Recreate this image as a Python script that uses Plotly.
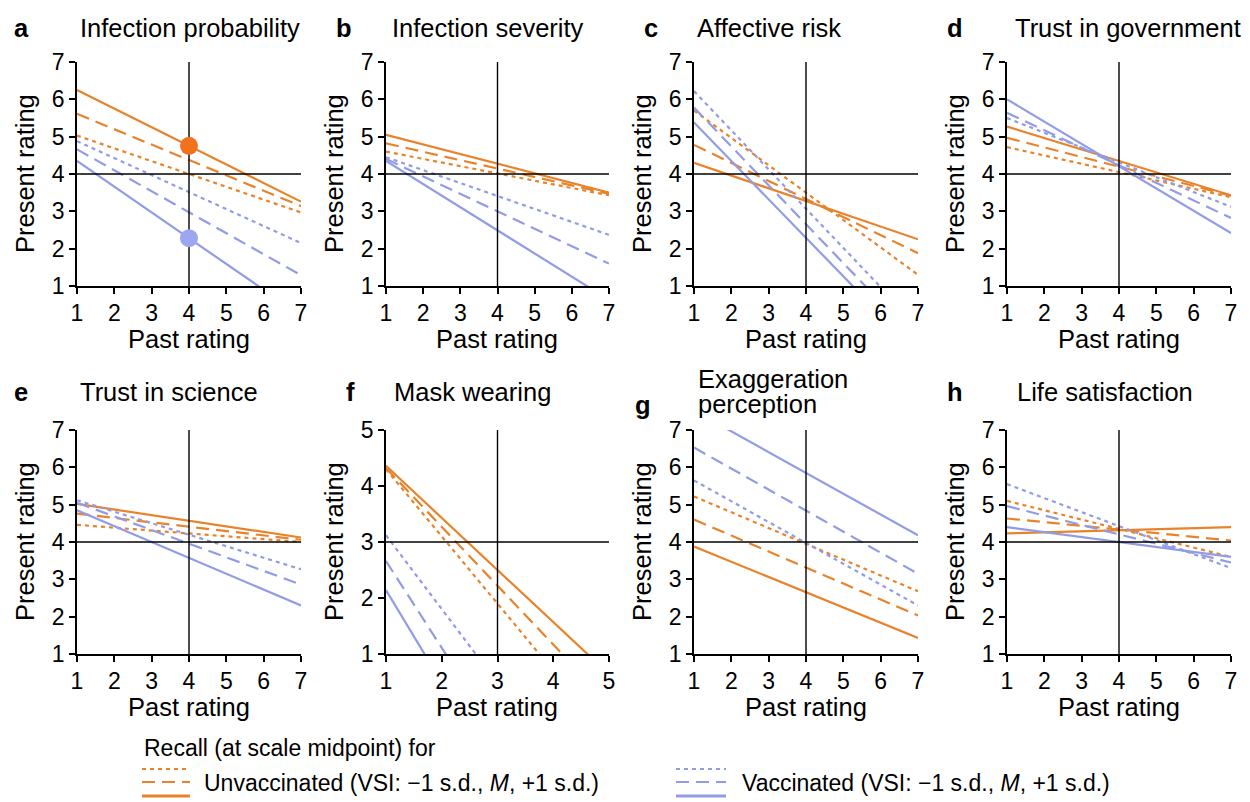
import plotly.graph_objects as go

# target picture size; the page body adds an 8 px margin, so the figure itself is
# made smaller and every pixel position below is given in page coordinates.
PAGE_W, PAGE_H = 1250, 802
OFF = 8
W, H = PAGE_W - OFF, PAGE_H - OFF

# ---------------- data ----------------
panel_letters = ["a", "b", "c", "d", "e", "f", "g", "h"]
panel_titles = ["Infection probability", "Infection severity", "Affective risk",
                "Trust in government", "Trust in science", "Mask wearing",
                "Exaggeration<br>perception", "Life satisfaction"]
scale_min = [1, 1, 1, 1, 1, 1, 1, 1]
scale_max = [7, 7, 7, 7, 7, 5, 7, 7]
scale_mid = [4, 4, 4, 4, 4, 3, 4, 4]

# Predicted present rating at the lowest past rating (scale min) and highest (scale max)
# Unvaccinated
unvax_minus_sd_at_min = [5.03, 4.60, 5.70, 4.72, 4.46, 4.30, 5.22, 5.10]
unvax_minus_sd_at_max = [2.97, 3.43, 1.30, 3.38, 4.00, -0.50, 2.68, 3.60]
unvax_mean_at_min = [5.61, 4.82, 4.78, 4.97, 4.76, 4.32, 4.60, 4.63]
unvax_mean_at_max = [3.14, 3.47, 1.88, 3.42, 4.06, 0.12, 2.03, 4.04]
unvax_plus_sd_at_min = [6.25, 5.05, 4.30, 5.27, 5.02, 4.36, 3.88, 4.23]
unvax_plus_sd_at_max = [3.26, 3.50, 2.25, 3.43, 4.12, 0.64, 1.43, 4.40]
# Vaccinated
vax_minus_sd_at_min = [4.88, 4.45, 6.22, 5.50, 5.12, 3.12, 5.65, 5.55]
vax_minus_sd_at_max = [2.15, 2.37, -0.08, 3.12, 3.27, -2.15, 2.30, 3.30]
vax_mean_at_min = [4.66, 4.40, 5.78, 5.64, 5.05, 2.66, 6.53, 4.96]
vax_mean_at_max = [1.29, 1.60, -0.47, 2.82, 2.86, -3.54, 3.15, 3.45]
vax_plus_sd_at_min = [4.35, 4.35, 5.38, 6.00, 4.85, 2.14, 7.52, 4.40]
vax_plus_sd_at_max = [0.21, 0.63, -0.80, 2.42, 2.30, -4.46, 4.18, 3.60]

# panels with highlighted recall points (at scale midpoint, +1 s.d.)
dot_panels = [0]

# ---------------- style ----------------
ORANGE = "#E8832B"
BLUE = "#929CE6"
DOT_ORANGE = "#F2711E"
DOT_BLUE = "#9DA7F0"
FONT = "Liberation Sans"
FS = 25.5
TICK_FS = 23
DASH_DOT = "4px,4px"
DASH_DASH = "13px,7px"
LW = 2.2

# panel plot areas in page pixels: (left, right) and (top, bottom)
col_px = [(77, 301), (386, 609), (694, 918), (1007, 1231)]
row_px = [(62, 286), (430, 654)]

fig = go.Figure()

series = [
    (ORANGE, [(unvax_minus_sd_at_min, unvax_minus_sd_at_max, DASH_DOT),
              (unvax_mean_at_min, unvax_mean_at_max, DASH_DASH),
              (unvax_plus_sd_at_min, unvax_plus_sd_at_max, "solid")]),
    (BLUE, [(vax_minus_sd_at_min, vax_minus_sd_at_max, DASH_DOT),
            (vax_mean_at_min, vax_mean_at_max, DASH_DASH),
            (vax_plus_sd_at_min, vax_plus_sd_at_max, "solid")]),
]

annotations = []
layout_axes = {}


def px_x(p):
    return (p - OFF) / W


def px_y(p):
    return 1 - (p - OFF) / H


def text(t, x, y, size=FS, xanchor="left", angle=0):
    return dict(text=t, x=px_x(x), y=px_y(y), xref="paper", yref="paper",
                xanchor=xanchor, yanchor="middle", align="left", textangle=angle,
                showarrow=False, font=dict(size=size, color="black", family=FONT))


for i in range(8):
    r, c = divmod(i, 4)
    xl, xr = col_px[c]
    yt, yb = row_px[r]
    xa = "x" if i == 0 else f"x{i+1}"
    ya = "y" if i == 0 else f"y{i+1}"
    lo, hi, mid = scale_min[i], scale_max[i], scale_mid[i]

    # regression lines
    for color, levels in series:
        for at_min, at_max, dash in levels:
            fig.add_trace(go.Scatter(
                x=[lo, hi], y=[at_min[i], at_max[i]], mode="lines",
                line=dict(color=color, width=LW, dash=dash),
                xaxis=xa, yaxis=ya, showlegend=False, hoverinfo="skip"))

    # midpoint reference lines
    fig.add_trace(go.Scatter(x=[mid, mid], y=[lo, hi], mode="lines",
                             line=dict(color="black", width=1.4),
                             xaxis=xa, yaxis=ya, showlegend=False, hoverinfo="skip"))
    fig.add_trace(go.Scatter(x=[lo, hi], y=[mid, mid], mode="lines",
                             line=dict(color="black", width=1.4),
                             xaxis=xa, yaxis=ya, showlegend=False, hoverinfo="skip"))

    if i in dot_panels:
        frac = (mid - lo) / (hi - lo)
        yo = unvax_plus_sd_at_min[i] + frac * (unvax_plus_sd_at_max[i] - unvax_plus_sd_at_min[i])
        yv = vax_plus_sd_at_min[i] + frac * (vax_plus_sd_at_max[i] - vax_plus_sd_at_min[i])
        fig.add_trace(go.Scatter(x=[mid, mid], y=[yo, yv], mode="markers",
                                 marker=dict(size=18, color=[DOT_ORANGE, DOT_BLUE]),
                                 xaxis=xa, yaxis=ya, showlegend=False, hoverinfo="skip"))

    common = dict(showline=True, linecolor="black", linewidth=1.5, ticks="outside",
                  ticklen=6, tickwidth=1.5, tickcolor="black", showgrid=False,
                  zeroline=False, fixedrange=True, range=[lo, hi], dtick=1, tick0=lo,
                  automargin=False,
                  tickfont=dict(size=TICK_FS, color="black", family=FONT))
    layout_axes["xaxis" if i == 0 else f"xaxis{i+1}"] = dict(
        common, domain=[px_x(xl), px_x(xr)], anchor=ya)
    layout_axes["yaxis" if i == 0 else f"yaxis{i+1}"] = dict(
        common, domain=[px_y(yb), px_y(yt)], anchor=xa)

    # axis titles
    annotations.append(text("Past rating", (xl + xr) / 2, yb + 53, xanchor="center"))
    annotations.append(text("Present rating", xl - 52, (yt + yb) / 2,
                            xanchor="center", angle=-90))

# panel letters and titles (page pixel positions)
letter_px = [(12, 28), (334, 28), (642, 28), (945, 28),
             (12, 392), (344, 392), (633, 405), (945, 392)]
title_px = [(78, 28), (390, 28), (695, 28), (1013, 28),
            (78, 392), (392, 392), (696, 379), (1015, 392)]
for i in range(8):
    lx, ly = letter_px[i]
    tx, ty = title_px[i]
    annotations.append(text(f"<b>{panel_letters[i]}</b>", lx, ly))
    for k, line in enumerate(panel_titles[i].split("<br>")):
        annotations.append(text(line, tx, ty + 25 * k))

# bottom legend
annotations.append(text("Recall (at scale midpoint) for", 142, 748, size=23))
legend_groups = [
    ("Unvaccinated (VSI: \u22121 s.d., <i>M</i>, +1 s.d.)", ORANGE, 142, 190, 202),
    ("Vaccinated (VSI: \u22121 s.d., <i>M</i>, +1 s.d.)", BLUE, 676, 726, 740),
]
shapes = []
for label, color, x0, x1, tx in legend_groups:
    for yy, dash, w in [(769, DASH_DOT, 2.2), (782, DASH_DASH, 2.2), (796, "solid", 3)]:
        shapes.append(dict(type="line", xref="paper", yref="paper",
                           x0=px_x(x0), x1=px_x(x1), y0=px_y(yy), y1=px_y(yy),
                           line=dict(color=color, width=w, dash=dash)))
    annotations.append(text(label, tx, 783, size=23))

fig.update_layout(width=W, height=H, autosize=False,
                  margin=dict(l=0, r=0, t=0, b=0, pad=0, autoexpand=False),
                  paper_bgcolor="white", plot_bgcolor="white",
                  annotations=annotations, shapes=shapes, **layout_axes)

fig.write_html("out.html")
